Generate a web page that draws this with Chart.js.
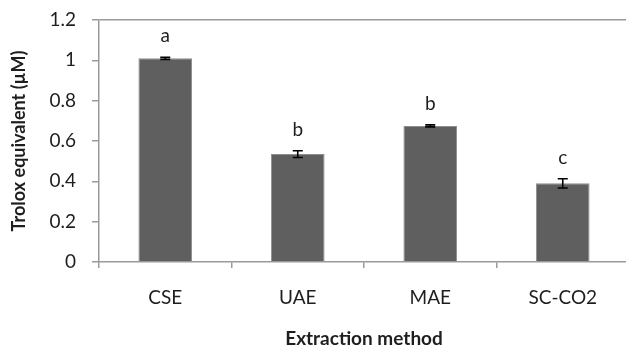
<!DOCTYPE html>
<html>
<head>
<meta charset="utf-8">
<script src="https://cdn.jsdelivr.net/npm/chart.js@4/dist/chart.umd.min.js"></script>
<style>
  html, body { margin: 0; padding: 0; background: #fff; overflow: hidden; }
  #wrap { width: 632px; height: 350px; }
</style>
</head>
<body>
<div id="wrap"><canvas id="c" width="632" height="350"></canvas></div>
<script>
// Extraction methods compared
const methods = ['CSE', 'UAE', 'MAE', 'SC-CO2'];
// Mean Trolox equivalent (µM)
const troloxMeans = [1.01, 0.535, 0.675, 0.39];
// Standard deviations
const troloxSD = [0.005, 0.017, 0.005, 0.023];
// Significance groups
const groupLetters = ['a', 'b', 'b', 'c'];
// Value-axis tick labels
const yTickLabels = ['0', '0.2', '0.4', '0.6', '0.8', '1', '1.2'];

const FONT = 'Lato, "Open Sans", sans-serif';
const AXIS_GRAY = '#9a9a9a';
const TEXT = '#1e1e1e';

const errorBarsAndLetters = {
  id: 'errorBarsAndLetters',
  afterDatasetsDraw(chart) {
    const { ctx, scales: { x, y } } = chart;
    ctx.save();
    ctx.strokeStyle = '#000';
    ctx.lineWidth = 1.6;
    const cap = 5;
    troloxMeans.forEach((m, i) => {
      const cx = x.getPixelForValue(i);
      const top = y.getPixelForValue(m + troloxSD[i]);
      const bot = y.getPixelForValue(m - troloxSD[i]);
      ctx.beginPath();
      ctx.moveTo(cx, top); ctx.lineTo(cx, bot);
      ctx.moveTo(cx - cap, top); ctx.lineTo(cx + cap, top);
      ctx.moveTo(cx - cap, bot); ctx.lineTo(cx + cap, bot);
      ctx.stroke();
      ctx.fillStyle = TEXT;
      ctx.font = '19px ' + FONT;
      ctx.textAlign = 'center';
      ctx.textBaseline = 'middle';
      ctx.fillText(groupLetters[i], cx, top - 21);
    });
    ctx.restore();
  }
};

new Chart(document.getElementById('c'), {
  type: 'bar',
  data: {
    labels: methods,
    datasets: [{
      data: troloxMeans,
      backgroundColor: '#5f5f5f',
      borderColor: '#8e8e8e',
      borderWidth: 1,
      categoryPercentage: 1,
      barPercentage: 0.405
    }]
  },
  options: {
    responsive: false,
    animation: false,
    devicePixelRatio: 1,
    layout: { padding: { left: 0, right: 3, top: 20, bottom: 0 } },
    plugins: { legend: { display: false }, tooltip: { enabled: false } },
    scales: {
      x: {
        grid: {
          offset: true,
          drawOnChartArea: false,
          color: AXIS_GRAY,
          tickColor: AXIS_GRAY,
          tickLength: 6,
          lineWidth: 1.5
        },
        border: { color: AXIS_GRAY, width: 1.5 },
        ticks: {
          color: TEXT,
          font: { family: FONT, size: 19, lineHeight: 1.2 },
          padding: 18,
          maxRotation: 0
        },
        title: {
          display: true,
          text: 'Extraction method',
          color: TEXT,
          font: { family: FONT, size: 19, weight: 'bold', lineHeight: 1.2 },
          padding: { top: 0, bottom: 0 }
        },
        afterFit(s) { s.height = 88; }
      },
      y: {
        min: 0,
        max: 1.2,
        grid: {
          color: c => (c.tick && Math.abs(c.tick.value - 1.2) < 1e-9) ? AXIS_GRAY : 'rgba(0,0,0,0)',
          tickColor: AXIS_GRAY,
          tickLength: 7,
          lineWidth: 1.5
        },
        border: { color: AXIS_GRAY, width: 1.5 },
        ticks: {
          stepSize: 0.2,
          color: TEXT,
          font: { family: FONT, size: 19 },
          padding: 16,
          callback: (v, i) => yTickLabels[i]
        },
        title: {
          display: true,
          text: 'Trolox equivalent (µM)',
          color: TEXT,
          font: { family: FONT, size: 18, weight: 'bold', lineHeight: 1.2 },
          padding: { top: 8, bottom: 0 }
        },
        afterFit(s) { s.width = 99; s.paddingTop = 0; s.paddingBottom = 0; }
      }
    }
  },
  plugins: [errorBarsAndLetters]
});
</script>
</body>
</html>
